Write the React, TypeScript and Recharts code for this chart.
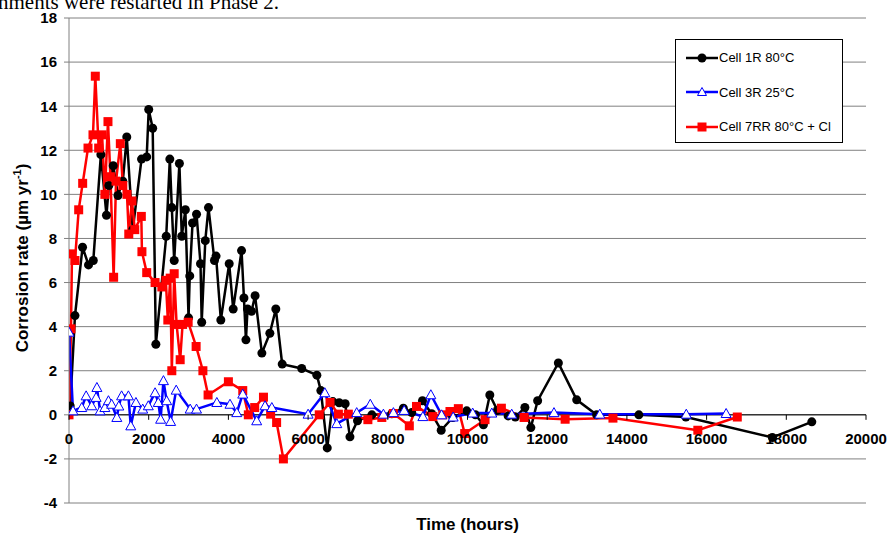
import React from "react";
import { CartesianGrid, Line, LineChart, ReferenceLine, XAxis, YAxis } from "recharts";

// Cell 1R 80°C (black)
const cell1Hours = [
  30, 150, 340, 490, 610, 800, 940, 1000, 1110, 1230, 1350, 1450, 1600, 1820, 1950, 2000,
  2100, 2180, 2440, 2530, 2580, 2640, 2770, 2830, 2920, 3000, 3030, 3100, 3200, 3300, 3330,
  3420, 3500, 3650, 3690, 3810, 4020, 4120, 4330, 4390, 4440, 4480, 4580, 4670, 4840, 5040,
  5190, 5350, 5840, 6220, 6320, 6480, 6620, 6780, 6930, 7050, 7240, 7600, 8100, 8390, 8600,
  8870, 9100, 9340, 9630, 9980, 10200, 10400, 10560, 10750, 11020, 11200, 11440, 11590,
  11760, 12280, 12740, 13240, 14300, 15480, 17650, 18640,
];
const cell1Rate = [
  0.4, 4.5, 7.6, 6.8, 7.0, 11.8, 9.05, 10.4, 11.3, 9.95, 10.6, 12.6, 8.4, 11.6, 11.7, 13.85,
  13.0, 3.2, 8.1, 11.6, 9.4, 7.0, 11.4, 8.1, 9.3, 4.4, 6.3, 8.7, 9.1, 6.85, 4.2,
  7.9, 9.4, 7.0, 7.2, 4.3, 6.85, 4.8, 7.45, 5.3, 3.4, 4.8, 4.7, 5.4, 2.8, 3.7,
  4.8, 2.3, 2.1, 1.8, 1.1, -1.5, 0.6, 0.55, 0.5, -1.0, -0.27, 0.0, 0.05, 0.3, 0.1,
  0.64, 0.05, -0.7, -0.12, 0.18, 0.0, -0.45, 0.9, 0.2, -0.05, -0.1, 0.33, -0.58,
  0.64, 2.35, 0.68, 0.0, 0.0, -0.1, -1.03, -0.32,
];

// Cell 3R 25°C (blue)
const cell3Hours = [
  0, 100, 320, 430, 570, 680, 700, 780, 900, 990, 1070, 1200, 1250, 1320, 1490, 1550, 1680,
  1850, 1990, 2160, 2240, 2300, 2370, 2450, 2550, 2690, 3040, 3200, 3710, 4040, 4210, 4360,
  4710, 4920, 5090, 6000, 6420, 6720, 7220, 7560, 7890, 8140, 8410, 8880, 9080, 9350, 9640,
  10130, 10610, 11110, 12170, 13320, 15490, 16490,
];
const cell3Rate = [
  3.75, 0.18, 0.33, 0.86, 0.41, 0.79, 1.24, 0.18, 0.33, 0.64, 0.48, -0.12, 0.4, 0.86, 0.86, -0.5, 0.56,
  0.26, 0.41, 1.0, 0.56, -0.2, 1.55, 0.64, -0.3, 1.12, 0.26, 0.26, 0.56, 0.48, 0.1, 0.94,
  -0.27, 0.41, 0.33, 0.03, 1.0, -0.4, 0.1, 0.48, 0.03, 0.1, 0.2, -0.08, 0.91, 0.0, -0.1,
  0.08, 0.08, 0.03, 0.1, 0.03, 0.03, 0.06,
];

// Cell 7RR 80°C + Cl (red)
const cell7Hours = [
  0, 50, 75, 150, 243, 343, 477, 602, 660, 745, 830, 900, 978, 1040, 1120, 1180, 1288, 1350,
  1455, 1500, 1580, 1650, 1815, 1830, 1950, 2160, 2330, 2430, 2480, 2540, 2580, 2640, 2700,
  2790, 2850, 2990, 3190, 3360, 3490, 4000, 4360, 4500, 4660, 4880, 5060, 5210, 5380, 6280,
  6550, 6760, 7010, 7500, 7850, 8140, 8540, 8720, 9130, 9380, 9560, 9770, 9930, 10440,
  10850, 11420, 12450, 13650, 15780, 16770,
];
const cell7Rate = [
  0, 3.9, 7.3, 7.0, 9.3, 10.5, 12.1, 12.7, 15.36, 12.1, 12.7, 10.0, 13.3, 10.8, 6.24, 10.6, 12.3, 10.4,
  10.0, 8.2, 9.7, 8.4, 9.0, 7.4, 6.45, 6.0, 5.8, 6.1, 4.3, 6.2, 2.0, 6.4, 4.1,
  2.5, 4.1, 4.2, 3.1, 2.0, 0.9, 1.5, 1.1, 0.0, 0.33, 0.8, 0.03, -0.35, -2.0, 0.0,
  0.56, 0.03, 0.03, -0.22, -0.12, 0.06, -0.5, 0.38, -0.08, 0.0, 0.15, 0.28, -0.85, -0.22,
  0.3, -0.12, -0.2, -0.15, -0.7, -0.1,
];

const xTicks = [0, 2000, 4000, 6000, 8000, 10000, 12000, 14000, 16000, 18000, 20000];
const yTicks = [-4, -2, 0, 2, 4, 6, 8, 10, 12, 14, 16, 18];

const seriesNames = ["Cell 1R 80°C", "Cell 3R 25°C", "Cell 7RR 80°C + Cl"];

const zip = (hours: number[], rate: number[]) => hours.map((t, i) => ({ t, v: rate[i] }));
const cell1 = zip(cell1Hours, cell1Rate);
const cell3 = zip(cell3Hours, cell3Rate);
const cell7 = zip(cell7Hours, cell7Rate);

const W = 890;
const H = 540;
const MARGIN = { top: 18, right: 24, bottom: 7, left: 9 };
const X_AXIS_H = 30;
const PLOT_BOTTOM = H - MARGIN.bottom - X_AXIS_H;
const ZERO_Y = MARGIN.top + ((PLOT_BOTTOM - MARGIN.top) * 18) / 22;
const FONT = "Arial, 'Liberation Sans', sans-serif";

const XTick = (props: any) => {
  const { x, payload } = props;
  return (
    <g>
      <line x1={x} x2={x} y1={ZERO_Y} y2={ZERO_Y + 5} stroke="#000" />
      <text x={x} y={ZERO_Y + 29} textAnchor="middle" fontFamily={FONT} fontWeight="bold" fontSize={15} fill="#000">
        {payload.value}
      </text>
    </g>
  );
};

const circleDot = (p: any) => <circle key={`c${p.index}`} cx={p.cx} cy={p.cy} r={4.5} fill="#000" />;
const squareDot = (p: any) => (
  <rect key={`s${p.index}`} x={p.cx - 4.5} y={p.cy - 4.5} width={9} height={9} fill="#ff0000" />
);
const triangleDot = (p: any) => (
  <path
    key={`t${p.index}`}
    d={`M${p.cx},${p.cy - 5} L${p.cx + 5},${p.cy + 4} L${p.cx - 5},${p.cy + 4} Z`}
    fill="#fff"
    stroke="#0000ff"
    strokeWidth={1}
  />
);

function LegendBox() {
  const markers = [
    <circle cx={16} cy={6} r={4.5} fill="#000" />,
    <path d="M16,1.5 L20.5,9.5 L11.5,9.5 Z" fill="#fff" stroke="#0000ff" />,
    <rect x={11.5} y={1.5} width={9} height={9} fill="#ff0000" />,
  ];
  const colors = ["#000", "#0000ff", "#ff0000"];
  return (
    <div
      style={{
        position: "absolute",
        left: 675,
        top: 39,
        width: 166,
        height: 102,
        background: "#fff",
        border: "1px solid #000",
        fontFamily: FONT,
        fontSize: 13,
      }}
    >
      {seriesNames.map((name, i) => (
        <div key={name} style={{ position: "absolute", left: 10, top: 10 + i * 34.5, display: "flex", alignItems: "center" }}>
          <svg width={32} height={12} style={{ display: "block" }}>
            <line x1={0} x2={32} y1={6} y2={6} stroke={colors[i]} strokeWidth={2.5} />
            {markers[i]}
          </svg>
          <span style={{ marginLeft: 1, whiteSpace: "nowrap" }}>{name}</span>
        </div>
      ))}
    </div>
  );
}

export default function App() {
  return (
    <div style={{ position: "absolute", left: 0, top: 0, width: W, height: H, background: "#fff", overflow: "hidden" }}>
      <div
        style={{
          position: "absolute",
          left: -2,
          top: -8,
          fontFamily: "'Liberation Serif', 'Times New Roman', serif",
          fontSize: 21,
          lineHeight: "21px",
          whiteSpace: "nowrap",
        }}
      >
        nments were restarted in Phase 2.
      </div>
      <LineChart width={W} height={H} margin={MARGIN}>
        <CartesianGrid horizontal vertical={false} stroke="#808080" strokeWidth={1} />
        <XAxis
          type="number"
          dataKey="t"
          domain={[0, 20000]}
          ticks={xTicks}
          axisLine={false}
          tickLine={false}
          tick={<XTick />}
          height={X_AXIS_H}
          interval={0}
          allowDataOverflow
        />
        <YAxis
          type="number"
          dataKey="v"
          domain={[-4, 18]}
          ticks={yTicks}
          width={60}
          interval={0}
          axisLine={{ stroke: "#808080" }}
          tickLine={{ stroke: "#808080" }}
          tickSize={5}
          tickMargin={7}
          tick={{ fill: "#000", fontFamily: FONT, fontWeight: "bold", fontSize: 15 }}
        />
        <ReferenceLine y={0} stroke="#000" strokeWidth={1} />
        <Line data={cell1} dataKey="v" name={seriesNames[0]} stroke="#000" strokeWidth={2.5} dot={circleDot} isAnimationActive={false} />
        <Line data={cell7} dataKey="v" name={seriesNames[2]} stroke="#ff0000" strokeWidth={2.5} dot={squareDot} isAnimationActive={false} />
        <Line data={cell3} dataKey="v" name={seriesNames[1]} stroke="#0000ff" strokeWidth={2.5} dot={triangleDot} isAnimationActive={false} />
      </LineChart>
      <LegendBox />
      <div
        style={{
          position: "absolute",
          left: 0,
          width: 935,
          top: 515,
          textAlign: "center",
          fontFamily: FONT,
          fontWeight: "bold",
          fontSize: 17,
        }}
      >
        Time (hours)
      </div>
      <div
        style={{
          position: "absolute",
          left: 22,
          top: 258,
          transform: "translate(-50%, -50%) rotate(-90deg)",
          whiteSpace: "nowrap",
          fontFamily: FONT,
          fontWeight: "bold",
          fontSize: 17,
        }}
      >
        Corrosion rate (µm yr<sup style={{ fontSize: 11 }}>-1</sup>)
      </div>
    </div>
  );
}
